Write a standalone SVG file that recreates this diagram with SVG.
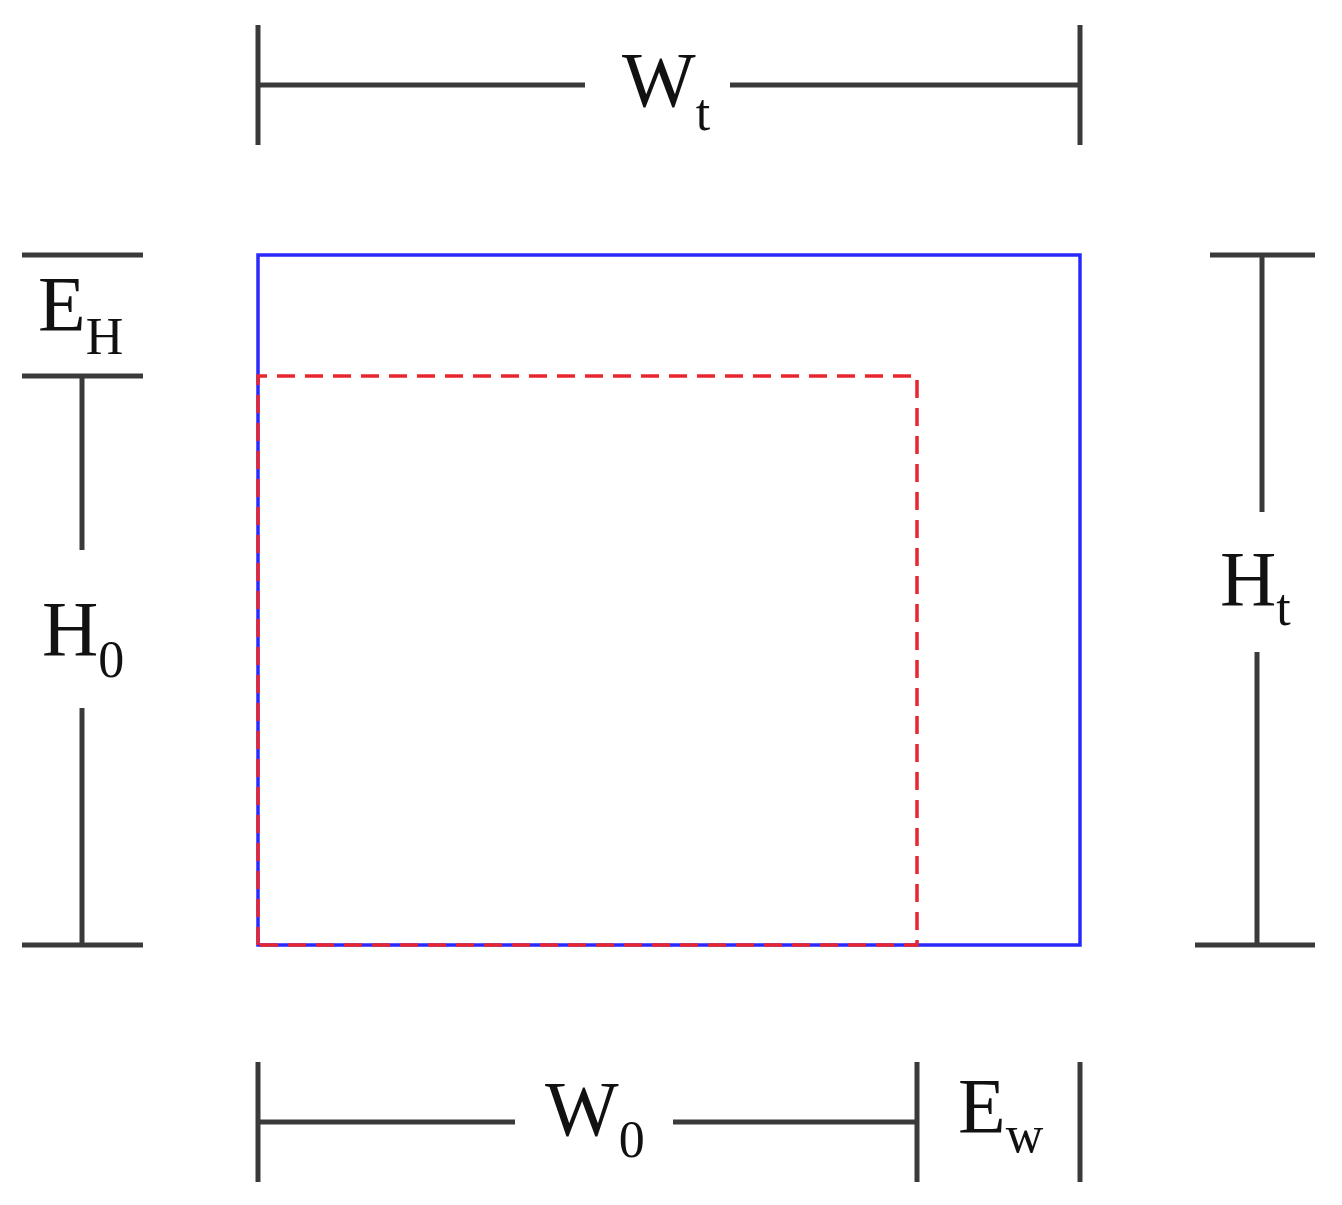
<svg xmlns="http://www.w3.org/2000/svg" width="1342" height="1205" viewBox="0 0 1342 1205">
<style>
.d{stroke:#3a3a3a;stroke-width:5;fill:none}
.t{font-family:"Liberation Serif",serif;font-size:78px;fill:#111}
.s{font-size:52px}
</style>
<rect width="1342" height="1205" fill="#fff"/>
<g id="outer"><rect x="258" y="255" width="822" height="690" fill="none" stroke="#2a2aff" stroke-width="3.5"/></g>
<g id="inner"><path d="M258 945V376H917V945H258" fill="none" stroke="#e8262f" stroke-width="3.5" stroke-dasharray="18,10"/></g>
<g id="connectors" class="d">
<path d="M258 25V145M1080 25V145M258 85H585M730 85H1080"/>
<path d="M22 255H143M22 376H143M22 945H143M82 376V550M82 708V945"/>
<path d="M1210 255H1315M1195 945H1315M1262 255V512M1257 652V945"/>
<path d="M258 1062V1182M917 1062V1182M1080 1062V1182M258 1122H515M673 1122H917"/>
</g>
<g id="labels">
<text class="t" x="622" y="106">W<tspan class="s" dy="24">t</tspan></text>
<text class="t" x="38" y="330">E<tspan class="s" dy="24">H</tspan></text>
<text class="t" x="42" y="655">H<tspan class="s" dy="22">0</tspan></text>
<text class="t" x="1220" y="605">H<tspan class="s" dy="20">t</tspan></text>
<text class="t" x="545" y="1135">W<tspan class="s" dy="22">0</tspan></text>
<text class="t" x="958" y="1132">E<tspan class="s" dy="20">w</tspan></text>
</g>
</svg>
